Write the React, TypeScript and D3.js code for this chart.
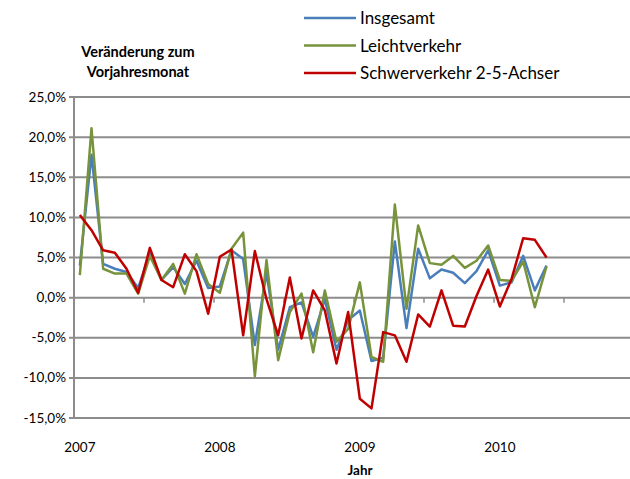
import React, { useRef, useEffect } from "react";
import * as d3 from "d3";

// Jan 2007 .. May 2010, one value per month (% change vs. same month of previous year)
const yearLabels = ["2007", "2008", "2009", "2010"];
const insgesamt = [
    4.0, 17.8, 4.2, 3.6, 3.2, 1.2, 5.5, 2.2, 3.8, 1.7, 4.6, 1.2,
    1.4, 5.9, 4.8, -5.9, 3.1, -6.5, -1.2, -0.6, -4.9, -0.2, -6.5, -2.8,
    -1.6, -7.9, -7.5, 7.0, -3.8, 6.1, 2.4, 3.5, 3.1, 1.8, 3.3, 5.9,
    1.5, 1.9, 5.2, 0.9, 4.0,
];
const leichtverkehr = [
    2.8, 21.1, 3.6, 3.0, 3.0, 0.5, 5.2, 2.2, 4.2, 0.5, 5.4, 1.7,
    0.6, 6.1, 8.1, -9.8, 4.7, -7.8, -1.8, 0.5, -6.8, 0.9, -5.5, -3.9,
    1.9, -7.4, -8.0, 11.6, -1.4, 9.0, 4.3, 4.1, 5.2, 3.7, 4.6, 6.5,
    2.2, 2.1, 4.5, -1.2, 3.9,
];
const schwerverkehr = [
    10.3, 8.4, 5.9, 5.6, 3.6, 0.6, 6.2, 2.2, 1.3, 5.4, 3.3, -2.0,
    5.1, 6.0, -4.7, 5.8, -0.2, -4.7, 2.5, -5.1, 0.9, -1.6, -8.2, -1.8,
    -12.6, -13.8, -4.3, -4.7, -8.0, -2.1, -3.6, 0.9, -3.5, -3.6, 0.2, 3.5,
    -1.1, 2.3, 7.4, 7.2, 5.0,
];
const yTicks = [25, 20, 15, 10, 5, 0, -5, -10, -15];

const series = [
    { name: "Insgesamt", values: insgesamt, color: "#4a7ebb" },
    { name: "Leichtverkehr", values: leichtverkehr, color: "#77933c" },
    { name: "Schwerverkehr 2-5-Achser", values: schwerverkehr, color: "#c00000" },
];

const font = "Lato, 'Open Sans', sans-serif";

const App = () => {
    const canvas = useRef(null);

    useEffect(() => {
        const svg = d3.select(canvas.current);
        svg.selectAll("*").remove();

        const x = d3.scaleLinear().domain([-0.5, 47.5]).range([74, 634]);
        const y = d3.scaleLinear().domain([-15, 25]).range([418, 97]);

        // gridlines
        svg.append("g")
            .selectAll("line")
            .data(yTicks)
            .enter()
            .append("line")
            .attr("x1", 69)
            .attr("x2", 630)
            .attr("y1", (d) => y(d))
            .attr("y2", (d) => y(d))
            .attr("stroke", "#8c8c8c")
            .attr("stroke-width", 2);

        // y axis line
        svg.append("line")
            .attr("x1", 74)
            .attr("x2", 74)
            .attr("y1", y(25))
            .attr("y2", y(-15) + 1)
            .attr("stroke", "#8c8c8c")
            .attr("stroke-width", 2);

        // x tick marks every 6 months on the zero line
        svg.append("g")
            .selectAll("line")
            .data(d3.range(6, 48, 6))
            .enter()
            .append("line")
            .attr("x1", (d) => x(d - 0.5))
            .attr("x2", (d) => x(d - 0.5))
            .attr("y1", y(0))
            .attr("y2", y(0) + 5)
            .attr("stroke", "#8c8c8c")
            .attr("stroke-width", 1.5);

        svg.append("g")
            .selectAll("text")
            .data(yTicks)
            .enter()
            .append("text")
            .attr("x", 66)
            .attr("y", (d) => y(d) + 4.5)
            .attr("text-anchor", "end")
            .attr("font-family", font)
            .attr("font-size", 13.5)
            .text((d) => d3.format(".1f")(d).replace(".", ",").replace("−", "-") + "%");

        svg.append("g")
            .selectAll("text")
            .data(yearLabels)
            .enter()
            .append("text")
            .attr("x", (d, i) => x(i * 12))
            .attr("y", 452)
            .attr("text-anchor", "middle")
            .attr("font-family", font)
            .attr("font-size", 13.5)
            .text((d) => d);

        svg.append("text")
            .attr("x", 360)
            .attr("y", 475)
            .attr("text-anchor", "middle")
            .attr("font-family", font)
            .attr("font-size", 13.5)
            .attr("font-weight", "bold")
            .text("Jahr");

        const title = svg.append("text")
            .attr("text-anchor", "middle")
            .attr("font-family", font)
            .attr("font-size", 14.5)
            .attr("font-weight", "bold");
        title.append("tspan").attr("x", 138).attr("y", 57).text("Veränderung zum");
        title.append("tspan").attr("x", 138).attr("y", 77).text("Vorjahresmonat");

        const line = d3
            .line()
            .x((d, i) => x(i))
            .y((d) => y(d));

        series.forEach((s) => {
            svg.append("path")
                .attr("d", line(s.values))
                .attr("fill", "none")
                .attr("stroke", s.color)
                .attr("stroke-width", 2.5)
                .attr("stroke-linejoin", "round");
        });

        // legend
        const legend = svg.append("g")
            .selectAll("g")
            .data(series)
            .enter()
            .append("g")
            .attr("transform", (d, i) => "translate(304," + (18 + i * 27.5) + ")");
        legend.append("line")
            .attr("x1", 0)
            .attr("x2", 52)
            .attr("stroke", (d) => d.color)
            .attr("stroke-width", 2.5);
        legend.append("text")
            .attr("x", 56)
            .attr("y", 6)
            .attr("font-family", font)
            .attr("font-size", 17)
            .text((d) => d.name);
    });

    return (
        <svg
            ref={canvas}
            width={630}
            height={479}
            style={{ position: "absolute", left: 0, top: 0, background: "#fff" }}
        />
    );
};

export default App;
